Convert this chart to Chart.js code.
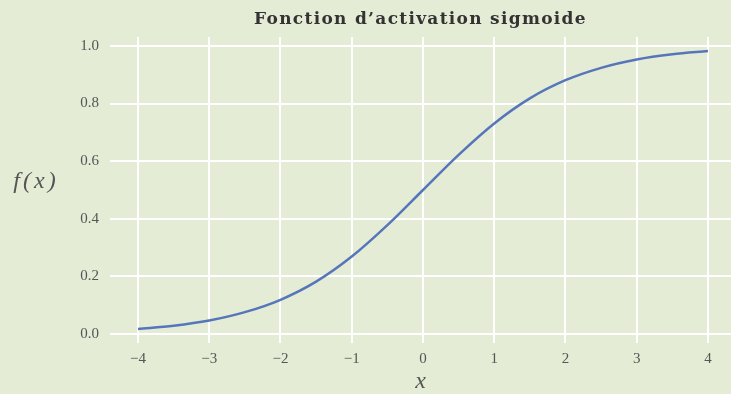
<!DOCTYPE html>
<html>
<head>
<meta charset="utf-8">
<script src="https://cdn.jsdelivr.net/npm/chart.js@4/dist/chart.umd.min.js"></script>
<style>
html,body{margin:0;padding:0;background:#e5ecd6;}
canvas{display:block;}
</style>
</head>
<body>
<canvas id="c" width="731" height="394"></canvas>
<script>
// Values
const xValues = [-4,-3.5,-3,-2.5,-2,-1.5,-1,-0.5,0,0.5,1,1.5,2,2.5,3,3.5,4];
const yValues = [0.018,0.029,0.047,0.076,0.119,0.182,0.269,0.378,0.5,0.622,0.731,0.818,0.881,0.924,0.953,0.971,0.982];
const xTicks = [-4,-3,-2,-1,0,1,2,3,4];
const yTicks = [0.0,0.2,0.4,0.6,0.8,1.0];
const titleText = "Fonction d\u2019activation sigmoide";
const xLabel = "x";
const yLabel = "f(x)";

const points = xValues.map((x,i)=>({x:x,y:yValues[i]}));

const textPlugin = {
  id:'texts',
  afterDraw(chart){
    const ctx = chart.ctx, a = chart.chartArea;
    ctx.save();
    ctx.fillStyle = '#333';
    ctx.textAlign = 'center';
    ctx.textBaseline = 'middle';
    ctx.font = 'bold 17px "DejaVu Serif", serif';
    ctx.letterSpacing = '1.3px';
    ctx.fillText(titleText, (a.left+a.right)/2, 20);
    ctx.fillStyle = '#555';
    ctx.letterSpacing = '0px';
    ctx.font = 'italic 24px "Liberation Serif", serif';
    ctx.fillText(xLabel, (a.left+a.right)/2, 382);
    ctx.letterSpacing = '3px';
    ctx.fillText(yLabel, 36, 182);
    ctx.restore();
  }
};

new Chart(document.getElementById('c'), {
  type:'line',
  data:{datasets:[{
    data:points,
    borderColor:'#5676bb',
    borderWidth:2.5,
    pointRadius:0,
    cubicInterpolationMode:'monotone',
    fill:false
  }]},
  options:{
    responsive:false,
    animation:false,
    layout:{padding:{top:37,right:0,left:0,bottom:0}},
    plugins:{legend:{display:false},tooltip:{enabled:false},title:{display:false}},
    scales:{
      x:{
        type:'linear',
        min:-4.393, max:4.323,
        afterBuildTicks(s){ s.ticks = xTicks.map(v=>({value:v})); },
        afterFit(s){ s.height = 51; },
        border:{display:false},
        grid:{color:'#ffffff', lineWidth:2, drawTicks:false},
        ticks:{
          padding:7,
          color:'#555',
          font:{family:'"Liberation Serif", serif', size:15},
          callback:(v)=> (v<0 ? '\u2212'+Math.abs(v) : String(v))
        }
      },
      y:{
        type:'linear',
        min:-0.031, max:1.031,
        afterBuildTicks(s){ s.ticks = yTicks.map(v=>({value:v})); },
        afterFit(s){ s.width = 110; },
        border:{display:false},
        grid:{color:'#ffffff', lineWidth:2, drawTicks:false},
        ticks:{
          padding:11,
          color:'#555',
          font:{family:'"Liberation Serif", serif', size:15},
          callback:(v)=> Number(v).toFixed(1)
        }
      }
    }
  },
  plugins:[textPlugin]
});
</script>
</body>
</html>
